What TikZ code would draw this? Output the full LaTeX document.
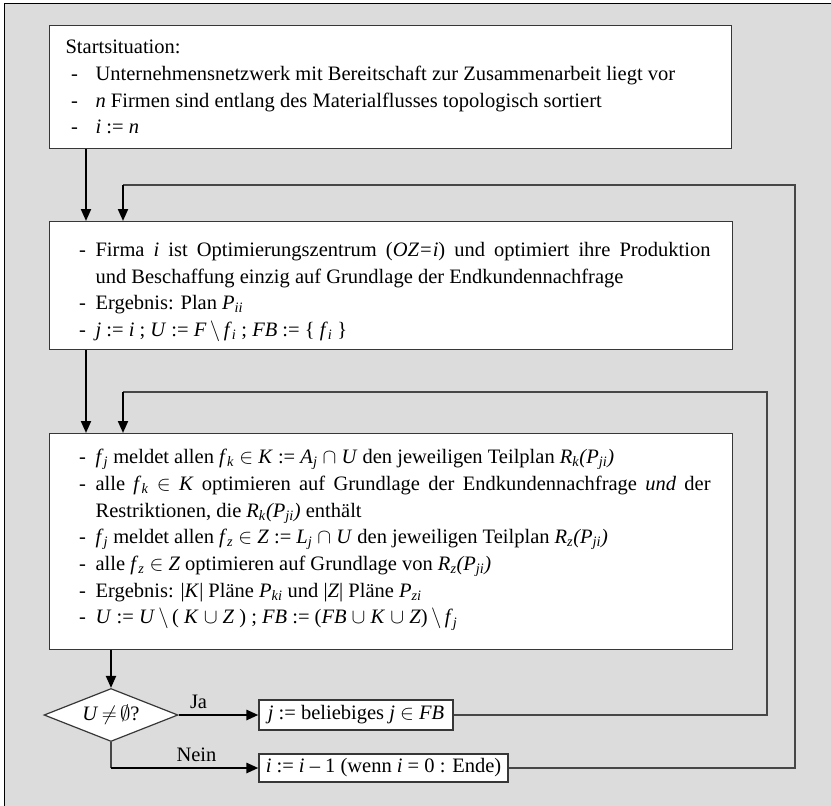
\documentclass[tikz,border=0pt]{standalone}
\usepackage{fontspec}
\setmainfont{Liberation Serif}
\usepackage{amsmath,amssymb}
\usetikzlibrary{arrows.meta,shapes.geometric}

\definecolor{panel}{RGB}{220,220,220}
\definecolor{edge}{RGB}{55,55,55}
\definecolor{loopc}{RGB}{70,70,70}

% italic variables and italic subscripts
\newcommand\vv[1]{\textit{#1}}
\newcommand\sub[1]{\textsubscript{\textit{#1}}}

% list item with a leading dash and a hanging indent
\newlength\dashoff
\newlength\hangw
\newcommand\itm[1]{\par\hangindent=\hangw\hangafter=1\noindent\makebox[\hangw][l]{\hspace*{\dashoff}-}#1}

\hyphenpenalty=10000
\exhyphenpenalty=10000
\lineskiplimit=-20pt

\tikzset{
  txt/.style={font=\fontsize{20.5}{26.7}\selectfont},
  stepbox/.style={txt, draw=edge, line width=1.2pt, fill=white, inner ysep=0pt,
    anchor=north west, align=justify},
  smallbox/.style={txt, draw=edge, line width=1.2pt, fill=white, inner sep=2pt},
  decision/.style={txt, diamond, draw=edge, line width=1.2pt, fill=white,
    minimum width=134pt, minimum height=53pt, aspect=2.53, inner sep=0pt},
  flow/.style={line width=2pt, -{Triangle[length=12pt,width=10pt]}},
  branch/.style={line width=2.6pt, -{Triangle[length=12pt,width=10pt]}},
  loopline/.style={line width=1.1pt, draw=loopc},
  lbl/.style={txt, inner sep=0pt}
}

\begin{document}
\begin{tikzpicture}[x=1pt,y=-1pt]
\useasboundingbox (0,0) rectangle (831,806);
\clip (0,0) rectangle (831,806);

% panel
\fill[white] (0,0) rectangle (831,806);
\fill[panel] (4.5,3.5) rectangle (835,810);
\draw[line width=1.3pt] (4.5,810) -- (4.5,3.5) -- (835,3.5);

% process boxes
\node[stepbox, text width=650pt, inner xsep=16pt, minimum height=123pt] (b1) at (49,25)
 {\setlength\dashoff{5.6pt}\setlength\hangw{30pt}%
  Startsituation:%
  \itm{Unternehmensnetzwerk mit Bereitschaft zur Zusammenarbeit liegt vor}%
  \itm{\vv{n} Firmen sind entlang des Materialflusses topologisch sortiert}%
  \itm{\vv{i} := \vv{n}}};

\node[stepbox, text width=639pt, inner xsep=22pt, minimum height=128pt] (b2) at (49,221)
 {\setlength\dashoff{7.6pt}\setlength\hangw{24pt}%
  \itm{Firma \vv{i} ist Optimierungszentrum (\vv{OZ=i}) und optimiert ihre Produktion\linebreak
       und Beschaffung einzig auf Grundlage der Endkundennachfrage}%
  \itm{Ergebnis: Plan \vv{P}\sub{ii}}%
  \itm{\vv{j} := \vv{i} ; \vv{U} := \vv{F}\,$\setminus$\,\vv{f}\sub{i} ; \vv{FB} := \{ \vv{f}\sub{i} \}}};

\node[stepbox, text width=639pt, inner xsep=22pt, minimum height=216pt] (b3) at (49,433)
 {\setlength\dashoff{7.6pt}\setlength\hangw{24pt}%
  \vspace*{-16pt}%
  \itm{\vv{f}\sub{j} meldet allen \vv{f}\sub{k} $\in$ \vv{K} := \vv{A}\sub{j} $\cap$ \vv{U} den jeweiligen Teilplan \vv{R}\sub{k}\vv{(P}\sub{ji}\vv{)}}%
  \itm{alle \vv{f}\sub{k} $\in$ \vv{K} optimieren auf Grundlage der Endkundennachfrage \vv{und} der\linebreak
       Restriktionen, die \vv{R}\sub{k}\vv{(P}\sub{ji}\vv{)} enthält}%
  \itm{\vv{f}\sub{j} meldet allen \vv{f}\sub{z} $\in$ \vv{Z} := \vv{L}\sub{j} $\cap$ \vv{U} den jeweiligen Teilplan \vv{R}\sub{z}\vv{(P}\sub{ji}\vv{)}}%
  \itm{alle \vv{f}\sub{z} $\in$ \vv{Z} optimieren auf Grundlage von \vv{R}\sub{z}\vv{(P}\sub{ji}\vv{)}}%
  \itm{Ergebnis: |\vv{K}| Pläne \vv{P}\sub{ki} und |\vv{Z}| Pläne \vv{P}\sub{zi}}%
  \itm{\vv{U} := \vv{U}\,$\setminus$\,( \vv{K} $\cup$ \vv{Z} ) ; \vv{FB} := (\vv{FB} $\cup$ \vv{K} $\cup$ \vv{Z})\,$\setminus$\,\vv{f}\sub{j}}};

% decision and its two outcomes
\node[decision] (dia) at (111,715) {\vv{U}\,$\neq$\,$\emptyset$?};
\node[smallbox, minimum width=194pt, minimum height=30pt] (bj) at (356,715)
  {\vv{j} := beliebiges \vv{j} $\in$ \vv{FB}};
\node[smallbox, minimum width=249pt, minimum height=28pt] (bi) at (383.5,768)
  {\vv{i} := \vv{i} – 1 (wenn \vv{i} = 0 : Ende)};

% guide coordinates for the vertical lanes and loop corners
\coordinate (lane) at (86,0);
\coordinate (back) at (123,0);
\coordinate (r1) at (795,185);
\coordinate (r2) at (767,392);
\coordinate (nk) at (111,768);

% main flow
\draw[flow] (b1.south -| lane) -- (b2.north -| lane);
\draw[flow] (b2.south -| lane) -- (b3.north -| lane);
\draw[flow] (b3.south -| dia.north) -- (dia.north);

% branches
\draw[branch] (dia.east) -- (bj.west)
  node[lbl, pos=0.25, above=5pt] (ja) {Ja};
\draw[loopline] (dia.south) -- (nk);
\draw[branch] (nk) -- (bi.west)
  node[lbl, pos=0.58, above=5pt] (nein) {Nein};

% feedback loops
\draw[loopline] (bi.east) -- (bi.east -| r1) -- (r1) -- (r1 -| back);
\draw[flow] (r1 -| back) -- (b2.north -| back);
\draw[loopline] (bj.east) -- (bj.east -| r2) -- (r2) -- (r2 -| back);
\draw[flow] (r2 -| back) -- (b3.north -| back);
\end{tikzpicture}
\end{document}
